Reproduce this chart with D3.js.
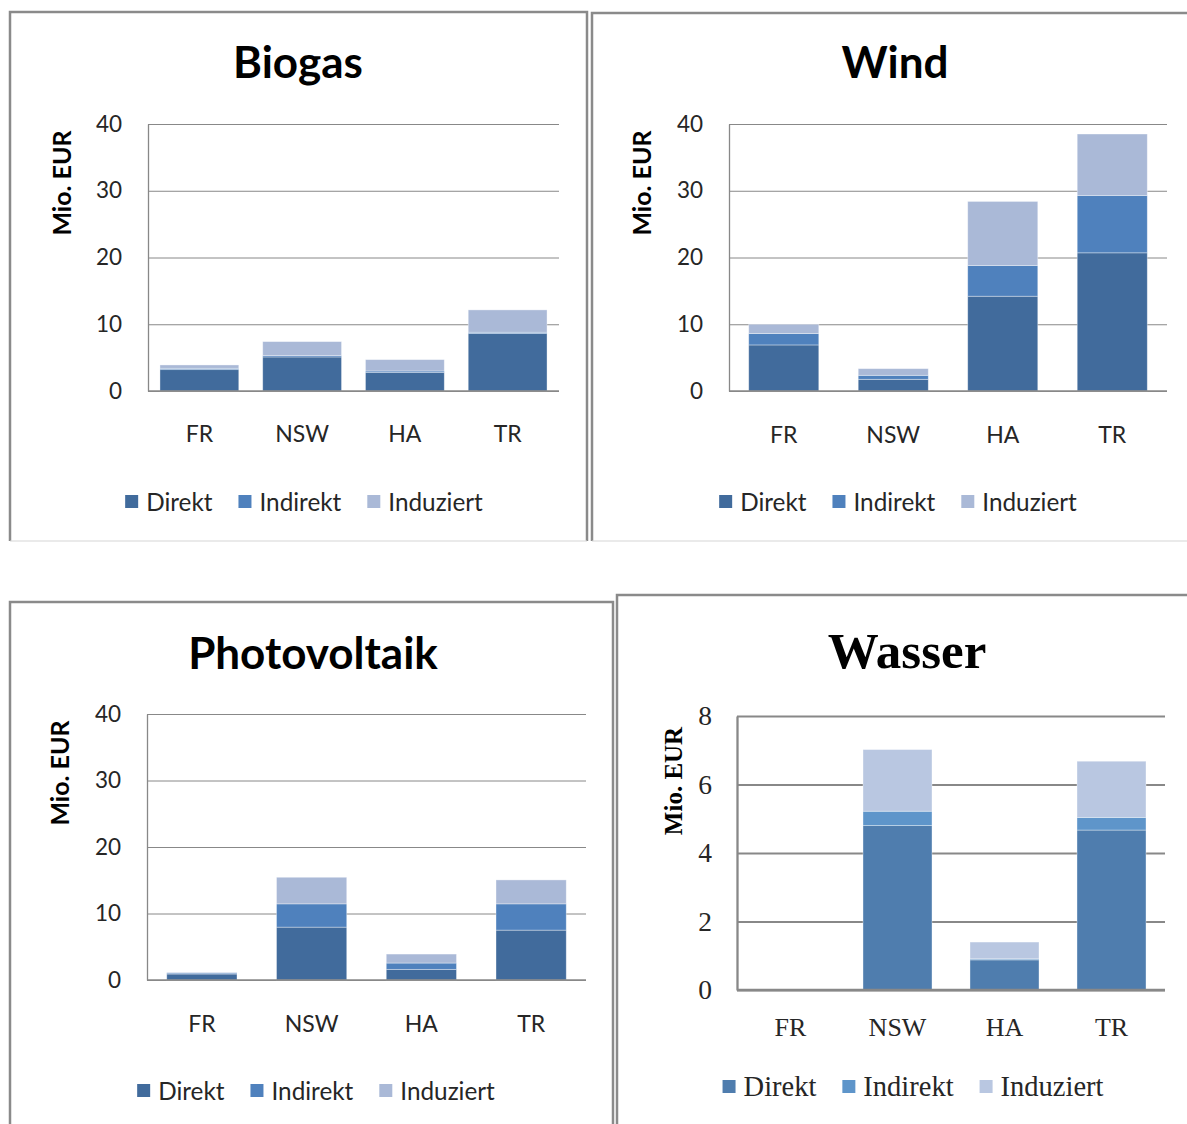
<!DOCTYPE html>
<html>
<head>
<meta charset="utf-8">
<script src="https://cdn.jsdelivr.net/npm/d3@7"></script>
<style>
  body { margin: 0; background: #fff; }
  svg { display: block; }
</style>
</head>
<body>
<svg id="chart" width="1187" height="1124"></svg>
<script>
// Regions and impact types (Mio. EUR)
const categories = ["FR", "NSW", "HA", "TR"];
const seriesNames = ["Direkt", "Indirekt", "Induziert"];

const biogasDirekt    = [3.2, 5.1, 2.8, 8.6];
const biogasIndirekt  = [0.2, 0.2, 0.2, 0.2];
const biogasInduziert = [0.5, 2.1, 1.7, 3.35];
const biogasTicks     = [0, 10, 20, 30, 40];

const windDirekt    = [6.9, 1.75, 14.2, 20.7];
const windIndirekt  = [1.7, 0.6, 4.6, 8.6];
const windInduziert = [1.4, 1.0, 9.6, 9.2];
const windTicks     = [0, 10, 20, 30, 40];

const pvDirekt    = [0.9, 7.95, 1.6, 7.5];
const pvIndirekt  = [0.15, 3.5, 0.95, 3.95];
const pvInduziert = [0.1, 4.0, 1.35, 3.6];
const pvTicks     = [0, 10, 20, 30, 40];

const wasserDirekt    = [0, 4.8, 0.88, 4.67];
const wasserIndirekt  = [0, 0.42, 0.03, 0.37];
const wasserInduziert = [0, 1.8, 0.49, 1.64];
const wasserTicks     = [0, 2, 4, 6, 8];

const yLabel = "Mio. EUR";

const sansColors  = ["#416B9C", "#4F81BD", "#AAB9D7"];
const serifColors = ["#4F7DAE", "#5E95CA", "#B9C7E1"];

const sansFont = {
  family: "Lato, 'Open Sans', sans-serif",
  title: 44, tick: 22.5, cat: 23, legend: 24.3, ylabel: 25
};
const serifFont = {
  family: "'Liberation Serif', 'DejaVu Serif', serif",
  title: 51, tick: 27.5, cat: 26, legend: 28.5, ylabel: 25
};

const panels = [
  {
    title: "Biogas", values: [biogasDirekt, biogasIndirekt, biogasInduziert], ticks: biogasTicks,
    colors: sansColors, font: sansFont, gridWidth: 1,
    frame: { x: 10, y: 12, w: 577, h: 529, lightBottom: true },
    plot: { x0: 148, x1: 559, y0: 124, y1: 391 }, pad: 0.233,
    titleX: 298, titleY: 78, catY: 442, legendX: 304, legendY: 511,
    yLabelX: 71, yLabelY: 183, tickPad: 26
  },
  {
    title: "Wind", values: [windDirekt, windIndirekt, windInduziert], ticks: windTicks,
    colors: sansColors, font: sansFont, gridWidth: 1,
    frame: { x: 592, y: 13, w: 640, h: 528, lightBottom: true },
    plot: { x0: 729, x1: 1167, y0: 124, y1: 391 }, pad: 0.36,
    titleX: 895, titleY: 78, catY: 443, legendX: 898, legendY: 511,
    yLabelX: 651, yLabelY: 183, tickPad: 26
  },
  {
    title: "Photovoltaik", values: [pvDirekt, pvIndirekt, pvInduziert], ticks: pvTicks,
    colors: sansColors, font: sansFont, gridWidth: 1,
    frame: { x: 10, y: 602, w: 603, h: 560, lightBottom: false },
    plot: { x0: 147, x1: 586, y0: 714, y1: 980 }, pad: 0.36,
    titleX: 313, titleY: 669, catY: 1032, legendX: 316, legendY: 1100,
    yLabelX: 69, yLabelY: 773, tickPad: 26
  },
  {
    title: "Wasser", values: [wasserDirekt, wasserIndirekt, wasserInduziert], ticks: wasserTicks,
    colors: serifColors, font: serifFont, gridWidth: 2,
    frame: { x: 617, y: 595, w: 640, h: 560, lightBottom: false },
    plot: { x0: 737, x1: 1165, y0: 716, y1: 990 }, pad: 0.355,
    titleX: 907, titleY: 668, catY: 1036, legendX: 913, legendY: 1096,
    yLabelX: 682, yLabelY: 781, tickPad: 25
  }
];

const svg = d3.select("#chart");

panels.forEach(drawPanel);

function drawPanel(p) {
  const g = svg.append("g").attr("class", "panel");
  const f = p.frame;
  const font = p.font;

  // Chart frame: dark on left/top/right, faint line at the bottom
  g.append("path")
    .attr("d", `M${f.x},${f.y + f.h} V${f.y} H${f.x + f.w} V${f.y + f.h}`)
    .attr("fill", "none")
    .attr("stroke", "#8a8a8a")
    .attr("stroke-width", 2.5);
  if (f.lightBottom) {
    g.append("line")
      .attr("x1", f.x).attr("x2", f.x + f.w)
      .attr("y1", f.y + f.h).attr("y2", f.y + f.h)
      .attr("stroke", "#d6d6d6").attr("stroke-width", 1.2);
  }

  // Title
  g.append("text")
    .attr("x", p.titleX).attr("y", p.titleY)
    .attr("text-anchor", "middle")
    .attr("font-family", font.family)
    .attr("font-weight", "bold")
    .attr("font-size", font.title)
    .attr("fill", "#000")
    .text(p.title);

  const x = d3.scaleBand()
    .domain(categories)
    .range([p.plot.x0, p.plot.x1])
    .paddingInner(p.pad)
    .paddingOuter(p.pad / 2);

  const yMax = d3.max(p.ticks);
  const y = d3.scaleLinear().domain([0, yMax]).range([p.plot.y1, p.plot.y0]);

  // Value axis with horizontal gridlines
  const yAxis = d3.axisLeft(y)
    .tickValues(p.ticks)
    .tickFormat(d3.format("d"))
    .tickSizeInner(-(p.plot.x1 - p.plot.x0))
    .tickSizeOuter(0)
    .tickPadding(p.tickPad);

  const ya = g.append("g")
    .attr("transform", `translate(${p.plot.x0},0)`)
    .call(yAxis);
  ya.select(".domain").attr("stroke", "#888").attr("stroke-width", p.gridWidth + 0.3);
  ya.selectAll(".tick line").attr("stroke", "#888").attr("stroke-width", p.gridWidth);
  ya.selectAll(".tick text")
    .attr("font-family", font.family)
    .attr("font-size", font.tick)
    .attr("fill", "#262626");

  // Stacked bars
  const rows = categories.map((c, i) => {
    const r = { cat: c };
    seriesNames.forEach((s, k) => { r[s] = p.values[k][i]; });
    return r;
  });
  const stacked = d3.stack().keys(seriesNames)(rows);

  const layers = g.append("g").selectAll("g")
    .data(stacked)
    .join("g")
    .attr("fill", (d, i) => p.colors[i]);

  layers.selectAll("rect")
    .data(d => d.filter(v => v[1] - v[0] > 0))
    .join("rect")
    .attr("x", d => x(d.data.cat))
    .attr("y", d => y(d[1]))
    .attr("width", x.bandwidth())
    .attr("height", d => y(d[0]) - y(d[1]))
    .attr("stroke", "rgba(255,255,255,0.45)")
    .attr("stroke-width", 0.8);

  // Category axis line on top of the bars
  g.append("line")
    .attr("x1", p.plot.x0).attr("x2", p.plot.x1)
    .attr("y1", y(0)).attr("y2", y(0))
    .attr("stroke", "#888").attr("stroke-width", p.gridWidth + 0.3);

  // Category labels
  const xAxis = d3.axisBottom(x).tickSize(0);
  const xa = g.append("g")
    .attr("transform", `translate(0,${p.catY})`)
    .call(xAxis);
  xa.select(".domain").remove();
  xa.selectAll(".tick text")
    .attr("y", 0).attr("dy", null)
    .attr("font-family", font.family)
    .attr("font-size", font.cat)
    .attr("fill", "#262626");

  // Y axis title
  g.append("text")
    .attr("transform", `translate(${p.yLabelX},${p.yLabelY}) rotate(-90)`)
    .attr("text-anchor", "middle")
    .attr("font-family", font.family)
    .attr("font-weight", "bold")
    .attr("font-size", font.ylabel)
    .attr("fill", "#000")
    .text(yLabel);

  // Legend
  const sq = 13, gapText = 8, gapItem = 26;
  const lg = g.append("g");
  let cx = 0;
  seriesNames.forEach((s, i) => {
    const item = lg.append("g").attr("transform", `translate(${cx},0)`);
    item.append("rect")
      .attr("x", 0).attr("y", -sq - 3)
      .attr("width", sq).attr("height", sq)
      .attr("fill", p.colors[i]);
    const t = item.append("text")
      .attr("x", sq + gapText).attr("y", 0)
      .attr("font-family", font.family)
      .attr("font-size", font.legend)
      .attr("fill", "#262626")
      .text(s);
    cx += sq + gapText + t.node().getComputedTextLength() + gapItem;
  });
  const total = cx - gapItem;
  lg.attr("transform", `translate(${p.legendX - total / 2},${p.legendY})`);
}
</script>
</body>
</html>
